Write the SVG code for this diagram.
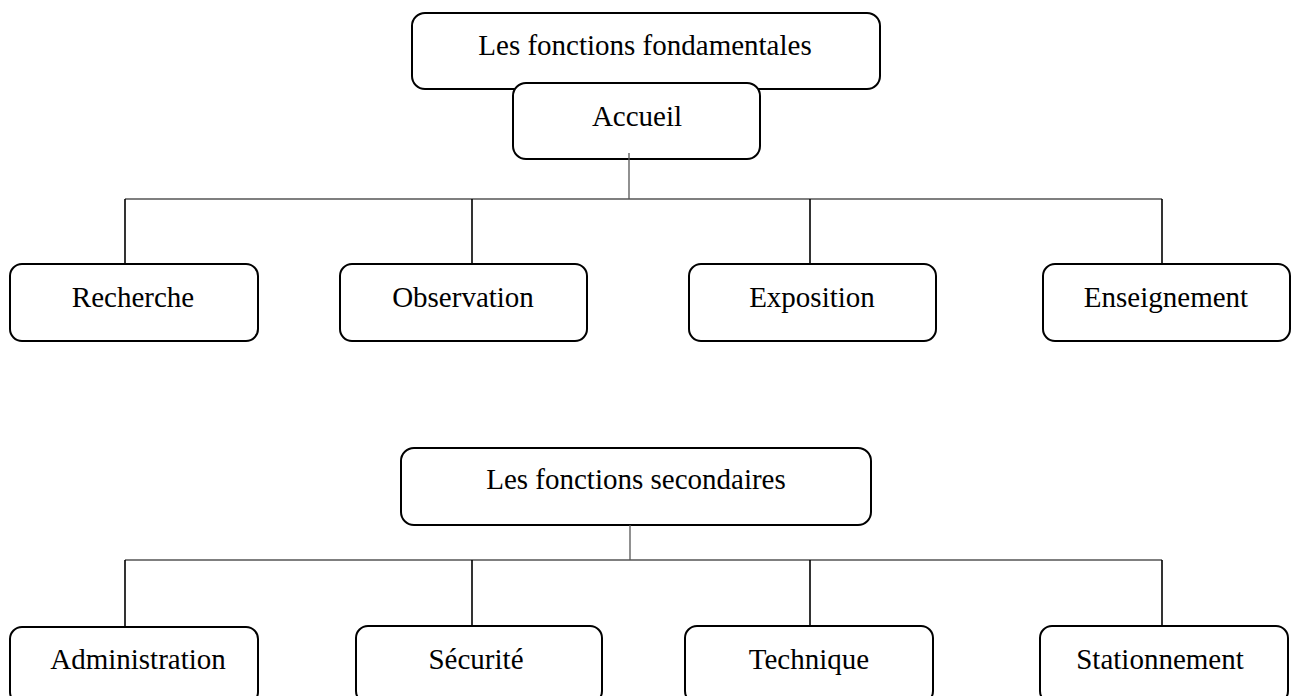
<svg xmlns="http://www.w3.org/2000/svg" width="1291" height="696" viewBox="0 0 1291 696">
<style>
.box{fill:#fff;stroke:#000;stroke-width:2}
.lbl{font-family:"Liberation Serif","Times New Roman",serif;font-size:29px;fill:#000;text-anchor:middle}
.trunk{stroke:#555;stroke-width:1.3;fill:none}
.branch{stroke:#000;stroke-width:1.6;fill:none}
</style>
<rect width="1291" height="696" fill="#fff"/>
<g id="fondamentales">
<rect class="box" x="412" y="13" width="468" height="76" rx="13"/>
<text class="lbl" x="645" y="55">Les fonctions fondamentales</text>
</g>
<g id="accueil">
<rect class="box" x="513" y="83" width="247" height="76" rx="13"/>
<text class="lbl" x="637" y="126">Accueil</text>
</g>
<g id="recherche">
<rect class="box" x="10" y="264" width="248" height="77" rx="12"/>
<text class="lbl" x="133" y="307">Recherche</text>
</g>
<g id="observation">
<rect class="box" x="340" y="264" width="247" height="77" rx="12"/>
<text class="lbl" x="463" y="307">Observation</text>
</g>
<g id="exposition">
<rect class="box" x="689" y="264" width="247" height="77" rx="12"/>
<text class="lbl" x="812" y="307">Exposition</text>
</g>
<g id="enseignement">
<rect class="box" x="1043" y="264" width="247" height="77" rx="12"/>
<text class="lbl" x="1166" y="307">Enseignement</text>
</g>
<g id="secondaires">
<rect class="box" x="401" y="448" width="470" height="77" rx="13"/>
<text class="lbl" x="636" y="489">Les fonctions secondaires</text>
</g>
<g id="administration">
<rect class="box" x="10" y="627" width="248" height="77" rx="12"/>
<text class="lbl" x="138" y="669">Administration</text>
</g>
<g id="securite">
<rect class="box" x="356" y="626" width="246" height="77" rx="12"/>
<text class="lbl" x="476" y="669">Sécurité</text>
</g>
<g id="technique">
<rect class="box" x="685" y="626" width="248" height="77" rx="12"/>
<text class="lbl" x="809" y="669">Technique</text>
</g>
<g id="stationnement">
<rect class="box" x="1040" y="626" width="248" height="77" rx="12"/>
<text class="lbl" x="1160" y="669">Stationnement</text>
</g>
<g id="connectors">
<line class="trunk" x1="629" y1="153" x2="629" y2="199"/>
<line class="trunk" x1="125" y1="199" x2="1162" y2="199"/>
<line class="branch" x1="125" y1="199" x2="125" y2="264"/>
<line class="branch" x1="472" y1="199" x2="472" y2="264"/>
<line class="branch" x1="810" y1="199" x2="810" y2="264"/>
<line class="branch" x1="1162" y1="199" x2="1162" y2="264"/>
<line class="trunk" x1="630" y1="525" x2="630" y2="560"/>
<line class="trunk" x1="125" y1="560" x2="1162" y2="560"/>
<line class="branch" x1="125" y1="560" x2="125" y2="627"/>
<line class="branch" x1="472" y1="560" x2="472" y2="626"/>
<line class="branch" x1="810" y1="560" x2="810" y2="626"/>
<line class="branch" x1="1162" y1="560" x2="1162" y2="626"/>
</g>
</svg>
